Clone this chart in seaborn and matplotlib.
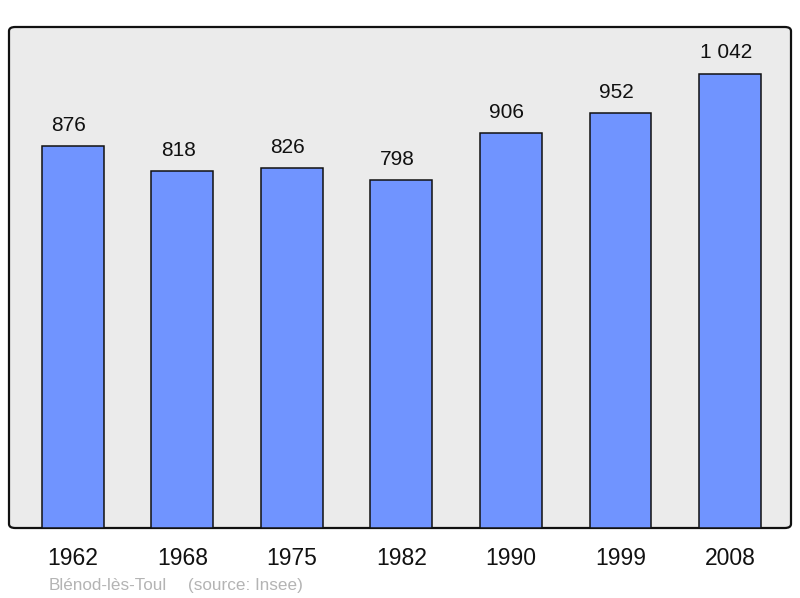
import matplotlib
matplotlib.use('Agg')
import matplotlib.pyplot as plt
from matplotlib.patches import FancyBboxPatch
import seaborn as sns
import pandas as pd

# --- Data ---
years = ['1962', '1968', '1975', '1982', '1990', '1999', '2008']
population = [876, 818, 826, 798, 906, 952, 1042]
value_labels = ['876', '818', '826', '798', '906', '952', '1 042']
commune = 'Blénod-lès-Toul'
source = '(source: Insee)'

sns.set_theme(style='white')
plt.rcParams['font.family'] = ['Liberation Sans', 'DejaVu Sans']

df = pd.DataFrame({'year': years, 'population': population})

fig = plt.figure(figsize=(8, 5.98), dpi=100)
ax = fig.add_axes([9 / 800, 70 / 598, 782 / 800, 501 / 598])
ax.patch.set_visible(False)

# rounded background frame
frame = FancyBboxPatch((0, 0), 1, 1, boxstyle='round,pad=0,rounding_size=0.008',
                       transform=ax.transAxes, facecolor='#ebebeb',
                       edgecolor='#111111', linewidth=1.6, zorder=0, clip_on=False)
ax.add_patch(frame)

sns.barplot(data=df, x='year', y='population', color='#7094ff', width=0.566,
            edgecolor='#111111', linewidth=1.1, saturation=1, ax=ax, zorder=2)

# value labels sit a little left of the bar centre, like the original
for i, (v, lab) in enumerate(zip(population, value_labels)):
    ax.annotate(lab, (i, v), xytext=(-3, 11), textcoords='offset points',
                ha='center', va='baseline', fontsize=15, color='#111111')

ax.set_xlim(-0.584, 6.557)
ax.set_ylim(0, 1149)
ax.set_xlabel('')
ax.set_ylabel('')
ax.set_yticks([])
ax.tick_params(axis='x', length=0, pad=14, labelsize=16.5, colors='#111111')
for s in ax.spines.values():
    s.set_visible(False)

fig.text(49 / 800, 1 - 590 / 598, commune, ha='left', va='baseline',
         fontsize=12.3, color='#b4b4b4')
fig.text(188 / 800, 1 - 590 / 598, source, ha='left', va='baseline',
         fontsize=12.3, color='#b4b4b4')

fig.savefig('out.png', dpi=100)
